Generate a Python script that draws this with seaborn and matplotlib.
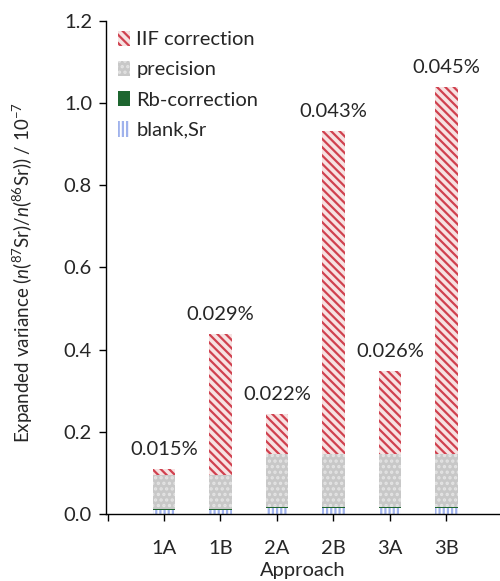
import matplotlib
matplotlib.use("Agg")
import matplotlib.pyplot as plt
import matplotlib.patches as mpatches
import seaborn as sns
import numpy as np
import pandas as pd

approach = ["1A", "1B", "2A", "2B", "3A", "3B"]
blank_sr = [0.009, 0.009, 0.014, 0.014, 0.014, 0.014]
rb_corr = [0.003, 0.003, 0.003, 0.003, 0.003, 0.003]
precision = [0.082, 0.082, 0.130, 0.130, 0.130, 0.130]
iif_corr = [0.016, 0.343, 0.096, 0.785, 0.200, 0.893]
rel_labels = ["0.015%", "0.029%", "0.022%", "0.043%", "0.026%", "0.045%"]

sns.set_theme(style="white")
plt.rcParams["font.family"] = ["Lato", "DejaVu Sans"]
plt.rcParams["mathtext.fontset"] = "custom"
plt.rcParams["mathtext.rm"] = "Lato"
plt.rcParams["mathtext.it"] = "Lato:italic"
plt.rcParams["hatch.linewidth"] = 1.6

df = pd.DataFrame({"approach": approach, "blank": blank_sr, "rb": rb_corr,
                   "prec": precision, "iif": iif_corr})

fig = plt.figure(figsize=(5.0, 5.81), dpi=100)
ax = fig.add_axes([0.212, 0.1153, 0.788, 0.8486])

C_IIF = ("#f7e2e2", "#d0414f", "\\\\\\\\")
C_PREC = ("#c8c8c8", "#e4e4e4", "...")
C_RB = ("#1e6630", "#1e6630", None)
C_BLANK = ("white", "#9fb2ec", "||||")

b0 = np.zeros(len(df))
layers = [("blank", C_BLANK), ("rb", C_RB), ("prec", C_PREC), ("iif", C_IIF)]
for col, (fc, ec, ht) in layers:
    sns.barplot(data=df, x="approach", y=col, ax=ax, width=0.4, bottom=b0,
                color=fc, edgecolor=ec, hatch=ht,
                linewidth=0, saturation=1, errorbar=None)
    b0 = b0 + df[col].values

for i, (tot, lab) in enumerate(zip(b0, rel_labels)):
    ax.annotate(lab, (i, tot), xytext=(0, 8), textcoords="offset points",
                ha="center", va="bottom", fontsize=14.5)

ax.set_ylim(0, 1.2)
ax.set_xlim(-1.027, 5.95)
ax.set_yticks(np.arange(0, 1.21, 0.2))
ax.set_yticklabels([f"{v:.1f}" for v in np.arange(0, 1.21, 0.2)], fontsize=14.5)
ax.set_xticks(range(-1, 6))
ax.set_xticklabels([""] + approach, fontsize=14.5)
ax.tick_params(axis="both", direction="out", length=5, width=1, color="black",
               bottom=True, left=True)
ax.tick_params(axis="x", pad=14)
ax.tick_params(axis="y", pad=5)
for s in ["top", "right"]:
    ax.spines[s].set_visible(False)
for s in ["left", "bottom"]:
    ax.spines[s].set_color("black")
    ax.spines[s].set_linewidth(1.0)

ax.set_xlabel("Approach", fontsize=14.5, labelpad=3)
ax.set_ylabel(r"Expanded variance ($n$($^{87}$Sr)/$n$($^{86}$Sr)) / 10$^{-7}$", fontsize=13.5)
ax.yaxis.set_label_coords(-0.18, 0.49)

handles = [
    mpatches.Patch(facecolor=C_IIF[0], edgecolor=C_IIF[1], hatch=C_IIF[2], linewidth=0, label="IIF correction"),
    mpatches.Patch(facecolor=C_PREC[0], edgecolor=C_PREC[1], hatch=C_PREC[2], linewidth=0, label="precision"),
    mpatches.Patch(facecolor=C_RB[0], edgecolor=C_RB[1], linewidth=0, label="Rb-correction"),
    mpatches.Patch(facecolor=C_BLANK[0], edgecolor=C_BLANK[1], hatch=C_BLANK[2], linewidth=0, label="blank,Sr"),
]
ax.legend(handles=handles, loc="upper left", bbox_to_anchor=(0.0, 1.005), frameon=False,
          fontsize=14.5, handlelength=0.6, handleheight=0.8, handletextpad=0.3,
          labelspacing=0.62, borderaxespad=0.2)

fig.savefig("out.png", dpi=100)
